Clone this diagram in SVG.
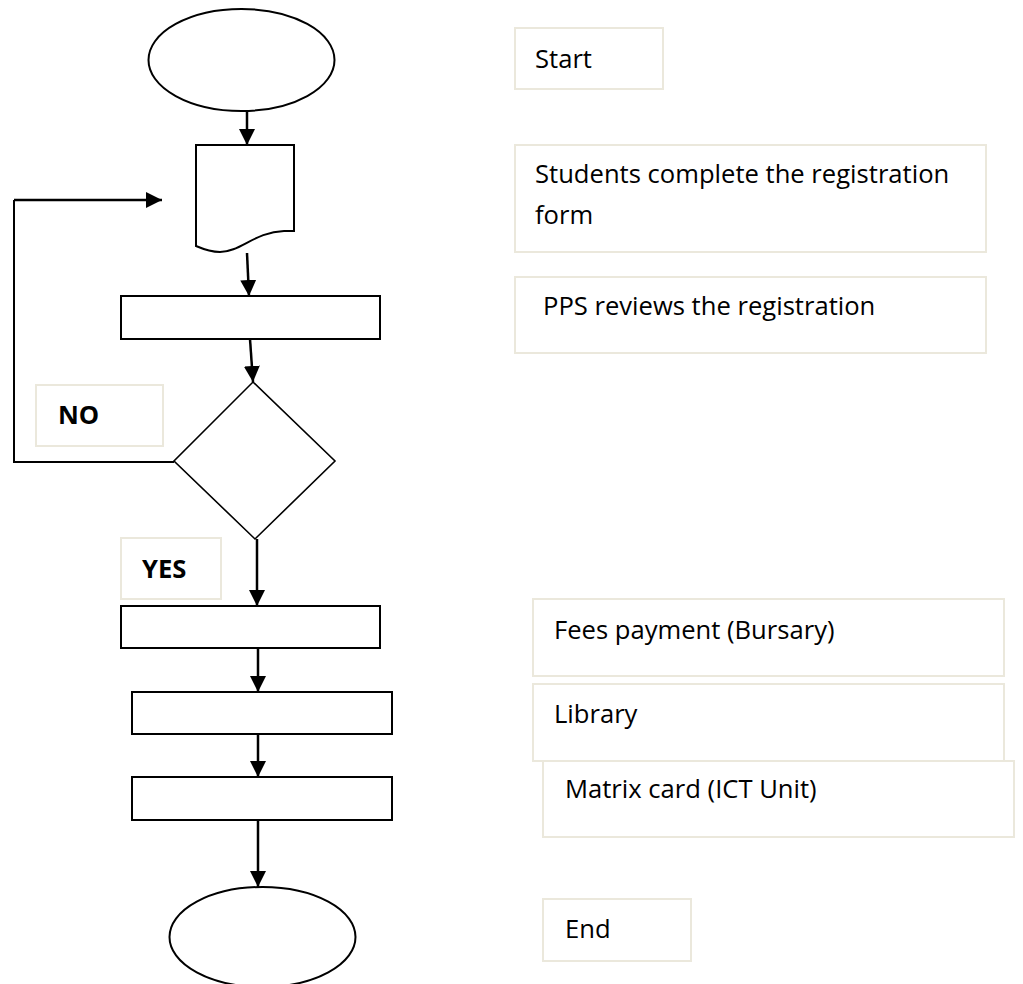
<svg xmlns="http://www.w3.org/2000/svg" width="1023" height="984" viewBox="0 0 1023 984">
<defs>
<marker id="arr" markerUnits="userSpaceOnUse" markerWidth="16" markerHeight="16" refX="16" refY="8" orient="auto">
<path d="M0,0 L16,8 L0,16 Z" fill="#000"/>
</marker>
<style>
.shape{fill:#fff;stroke:#000;stroke-width:2}
.lbl{fill:#fff;stroke:#ebe8dc;stroke-width:2}
.txt{font-family:"Open Sans","Liberation Sans",sans-serif;font-size:25.6px;fill:#000}
.bold{font-weight:bold}
.conn{fill:none;stroke:#000;stroke-width:2.5;marker-end:url(#arr)}
.line{fill:none;stroke:#000;stroke-width:2}
</style>
</defs>
<rect width="1023" height="984" fill="#fff"/>

<g id="connectors">
<path class="conn" d="M247,111 L247,145"/>
<path class="conn" d="M247,253 L249,296"/>
<path class="conn" d="M250,339 L253,382"/>
<path class="line" d="M174,462 L14,462 L14,200"/>
<path class="conn" d="M14,200 L162,200"/>
<path class="conn" d="M257,539 L257,606"/>
<path class="conn" d="M258,648 L258,692"/>
<path class="conn" d="M258,734 L258,777"/>
<path class="conn" d="M258,820 L258,887"/>
</g>

<g id="start"><ellipse class="shape" cx="241.5" cy="60" rx="93" ry="51"/></g>
<g id="form"><path class="shape" d="M196,145 L294,145 L294,231 L284,231 C255,232 240,252 220,252 C210,252 203,249 196,246 Z"/></g>
<g id="review"><rect class="shape" x="121" y="296" width="259" height="43"/></g>
<g id="decision"><path class="shape" style="stroke-width:1.6" d="M253,382 L335,461 L255,539 L174,461 Z"/></g>
<g id="fees"><rect class="shape" x="121" y="606" width="259" height="42"/></g>
<g id="library"><rect class="shape" x="132" y="692" width="260" height="42"/></g>
<g id="matrix"><rect class="shape" x="132" y="777" width="260" height="43"/></g>
<g id="end"><ellipse class="shape" cx="262.5" cy="937" rx="93" ry="50"/></g>

<g id="label-no"><rect class="lbl" x="36" y="385" width="127" height="61"/><text class="txt bold" x="58" y="424">NO</text></g>
<g id="label-yes"><rect class="lbl" x="121" y="538" width="100" height="61"/><text class="txt bold" x="142" y="578">YES</text></g>

<g id="desc-start"><rect class="lbl" x="515" y="28" width="148" height="61"/><text class="txt" x="535" y="68">Start</text></g>
<g id="desc-form"><rect class="lbl" x="515" y="145" width="471" height="107"/><text class="txt" x="535" y="183">Students complete the registration</text><text class="txt" x="535" y="224">form</text></g>
<g id="desc-review"><rect class="lbl" x="515" y="277" width="471" height="76"/><text class="txt" x="543" y="315">PPS reviews the registration</text></g>
<g id="desc-fees"><rect class="lbl" x="533" y="599" width="471" height="77"/><text class="txt" x="554" y="639">Fees payment (Bursary)</text></g>
<g id="desc-library"><rect class="lbl" x="533" y="684" width="471" height="77"/><text class="txt" x="554" y="723">Library</text></g>
<g id="desc-matrix"><rect class="lbl" x="543" y="761" width="471" height="76"/><text class="txt" x="565" y="798">Matrix card (ICT Unit)</text></g>
<g id="desc-end"><rect class="lbl" x="543" y="899" width="148" height="62"/><text class="txt" x="565" y="938">End</text></g>
</svg>
